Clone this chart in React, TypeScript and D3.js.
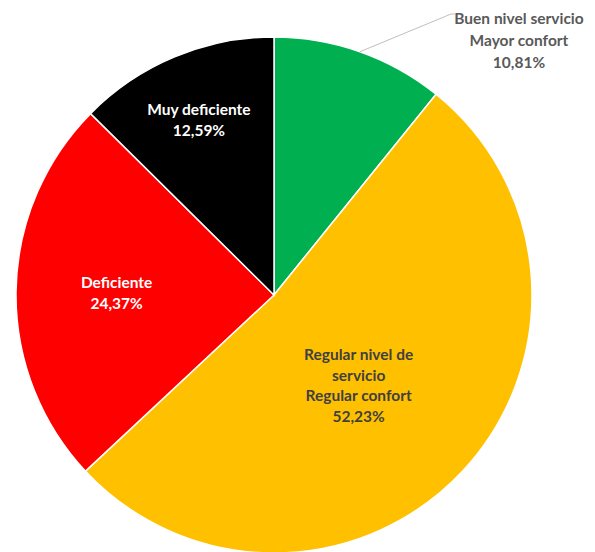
import React from "react";
import * as d3 from "d3";

const categories = ["Buen nivel servicio\nMayor confort", "Regular nivel de\nservicio\nRegular confort", "Deficiente", "Muy deficiente"];
const values = [10.81, 52.23, 24.37, 12.59];
const valueLabels = ["10,81%", "52,23%", "24,37%", "12,59%"];
const colors = ["#00B050", "#FFC000", "#FF0000", "#000000"];
const textColors = ["#595959", "#404040", "#FFFFFF", "#FFFFFF"];

const W = 595, H = 552;
const cx = 274, cy = 295, R = 258;

export default function App() {
  const pie = d3.pie<number>().sort(null).value((d) => d);
  const arcs = pie(values);
  const arc = d3.arc<d3.PieArcDatum<number>>().innerRadius(0).outerRadius(R);
  // label layout (fraction of radius along mid ray, plus small nudges)
  const labelR = [0, 0.48, 0.61, 0.735];
  const nudge: [number, number][] = [[0, 0], [-6, 6], [0, 0], [-2, 0]];
  const font = "Lato, 'Open Sans', sans-serif";
  return (
    <div style={{ position: "absolute", left: 0, top: 0 }}>
      <svg width={W} height={H} style={{ display: "block" }}>
        <rect width={W} height={H} fill="#fff" />
        <g transform={`translate(${cx},${cy})`}>
          {arcs.map((a, i) => (
            <path key={i} d={arc(a) || ""} fill={colors[i]} stroke="#fff" strokeWidth={1.5} />
          ))}
        </g>
        {arcs.map((a, i) => {
          const lines = [...categories[i].split("\n"), valueLabels[i]];
          const mid = (a.startAngle + a.endAngle) / 2;
          const lh = i === 0 ? 22 : 20.5;
          let x: number, y0: number;
          if (i === 0) {
            x = 519;
            y0 = 18;
          } else {
            const r = R * labelR[i];
            x = cx + r * Math.sin(mid) + nudge[i][0];
            y0 = cy - r * Math.cos(mid) + nudge[i][1] - ((lines.length - 1) * lh) / 2;
          }
          return (
            <g key={i}>
              {i === 0 && (
                <polyline
                  points={`${cx + R * Math.sin(mid)},${cy - R * Math.cos(mid)} ${451},${14} ${455},${14}`}
                  fill="none"
                  stroke="#BFBFBF"
                  strokeWidth={1}
                />
              )}
              {lines.map((l, j) => (
                <text
                  key={j}
                  x={x}
                  y={y0 + j * lh}
                  dy="0.36em"
                  textAnchor="middle"
                  fontFamily={font}
                  fontWeight="bold"
                  fontSize={15.5}
                  fill={textColors[i]}
                >
                  {l}
                </text>
              ))}
            </g>
          );
        })}
      </svg>
    </div>
  );
}
